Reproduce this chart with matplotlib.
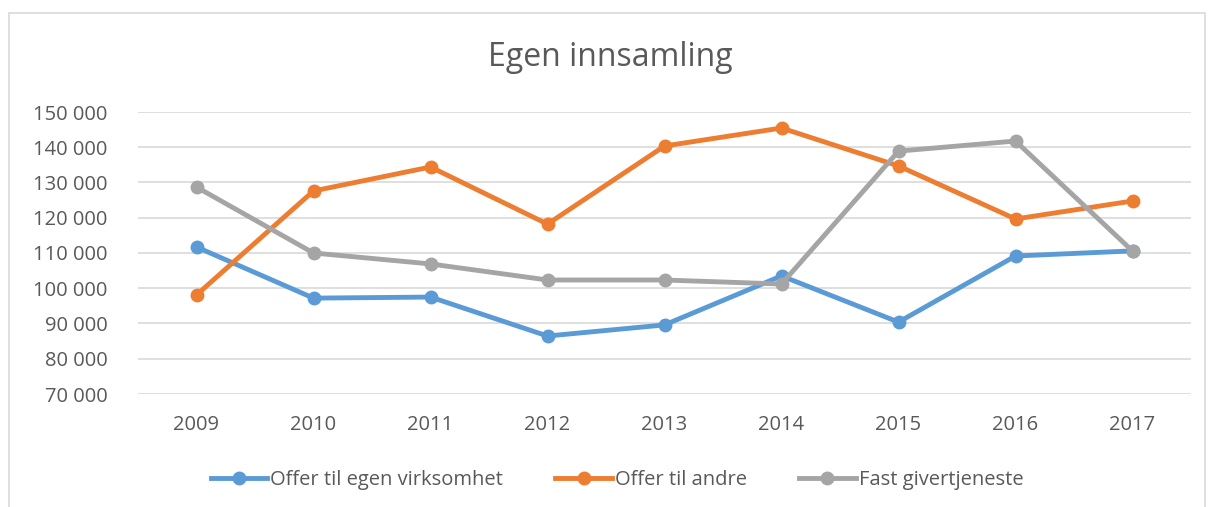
import matplotlib.pyplot as plt
from matplotlib.patches import Rectangle
from matplotlib.ticker import FuncFormatter

years = ['2009', '2010', '2011', '2012', '2013', '2014', '2015', '2016', '2017']
egen = [111700, 97200, 97500, 86450, 89600, 103500, 90400, 109150, 110600]
andre = [98100, 127600, 134400, 118200, 140350, 145460, 134700, 119650, 124750]
fast = [128700, 110000, 106900, 102340, 102340, 101200, 138900, 141770, 110570]

plt.rcParams['font.family'] = ['Open Sans', 'DejaVu Sans']

fig = plt.figure(figsize=(12.14, 5.07), dpi=100)
# ramme rundt diagrammet
fig.patches.append(Rectangle((9 / 1214, -0.1), 1196 / 1214, 1.1 - 13 / 507,
                             transform=fig.transFigure, fill=False,
                             edgecolor='#d9d9d9', linewidth=1.2))

ax = fig.add_axes([138 / 1214, 1 - 394 / 507, 1053 / 1214, 282 / 507])
x = range(len(years))
ax.plot(x, egen, color='#5b9bd5', lw=3.5, marker='o', ms=9, label='Offer til egen virksomhet')
ax.plot(x, andre, color='#ed7d31', lw=3.5, marker='o', ms=9, label='Offer til andre')
ax.plot(x, fast, color='#a5a5a5', lw=3.5, marker='o', ms=9, label='Fast givertjeneste')

ax.set_xlim(-0.5, len(years) - 0.5)
ax.set_ylim(70000, 150000)
ax.set_yticks(range(70000, 150001, 10000))
ax.yaxis.set_major_formatter(FuncFormatter(lambda v, p: f'{int(v):,}'.replace(',', ' ')))
ax.set_xticks(list(x))
ax.set_xticklabels(years)
ax.grid(axis='y', color='#d9d9d9', lw=1.2)
ax.set_axisbelow(True)
for s in ax.spines.values():
    s.set_visible(False)
ax.tick_params(length=0, labelsize=14.5, colors='#595959')
ax.tick_params(axis='x', pad=15)
ax.tick_params(axis='y', pad=22)

fig.text(0.5 + 3 / 1214, 1 - 58 / 507, 'Egen innsamling', ha='center', va='center',
         fontsize=23, color='#595959')

fig.legend(loc='center', bbox_to_anchor=(617 / 1214, 1 - 480 / 507), ncol=3,
           frameon=False, fontsize=14.5, labelcolor='#595959',
           handlelength=2.8, handletextpad=0.15, columnspacing=2.6)

fig.savefig('out.png', dpi=100)
